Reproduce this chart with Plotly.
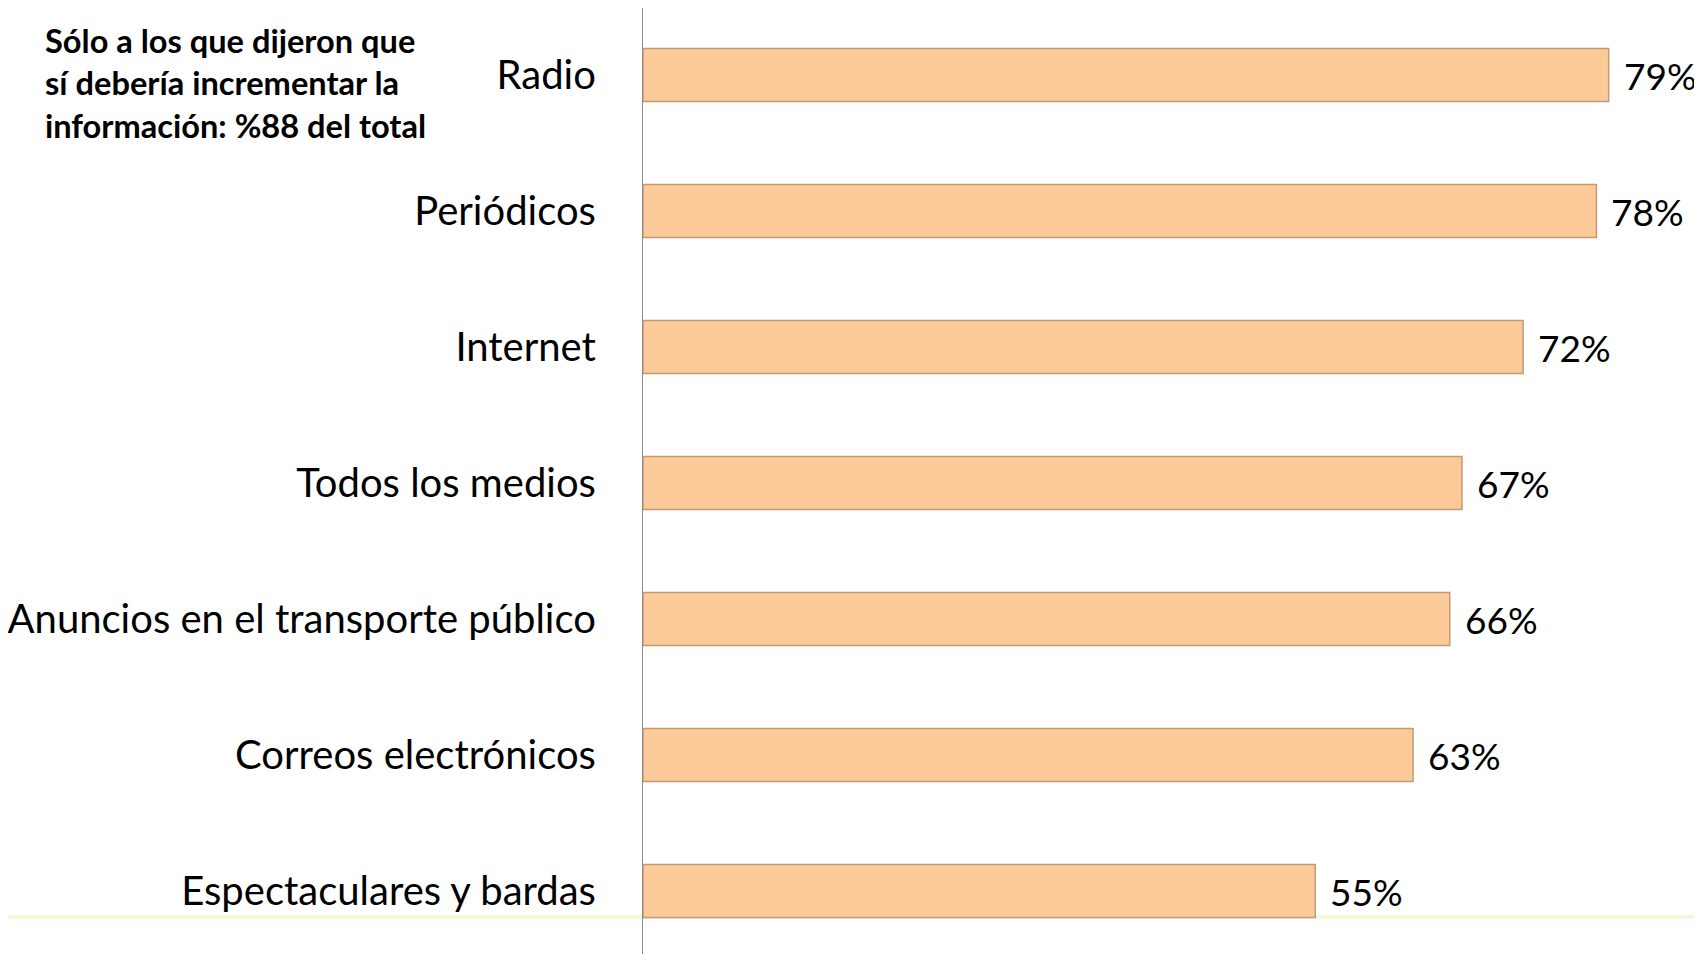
import plotly.graph_objects as go

categories = [
    "Radio",
    "Periódicos",
    "Internet",
    "Todos los medios",
    "Anuncios en el transporte público",
    "Correos electrónicos",
    "Espectaculares y bardas",
]
values = [79, 78, 72, 67, 66, 63, 55]
value_labels = ["79%", "78%", "72%", "67%", "66%", "63%", "55%"]
note_lines = [
    "Sólo a los que dijeron que",
    "sí debería incrementar la",
    "información: %88 del total",
]

FONT = "Lato"

fig = go.Figure()
fig.add_trace(go.Bar(
    y=categories,
    x=values,
    orientation="h",
    marker=dict(color="#FCCA98", line=dict(color="#C39A76", width=1.5)),
    cliponaxis=False,
    width=0.39,
))

annotations = [
    dict(
        x=v, y=c, xref="x", yref="y",
        text=t, showarrow=False,
        xanchor="left", yanchor="middle", xshift=13,
        font=dict(family=FONT, size=37, color="#000000"),
    )
    for c, v, t in zip(categories, values, value_labels)
]
annotations.append(
    dict(
        text="<br>".join(note_lines),
        xref="paper", yref="paper",
        x=-0.577, y=0.988,
        xanchor="left", yanchor="top",
        align="left",
        showarrow=False,
        font=dict(family=FONT, size=32.6, color="#000000", weight="bold"),
    )
)

fig.update_layout(
    width=1702,
    height=954,
    paper_bgcolor="white",
    plot_bgcolor="white",
    margin=dict(l=627, r=28, t=0, b=0),
    showlegend=False,
    xaxis=dict(range=[0, 85], visible=False, fixedrange=True),
    yaxis=dict(
        categoryorder="array",
        categoryarray=categories[::-1],
        range=[-0.522, 6.493],
        showline=True,
        linecolor="#8A8A8A",
        linewidth=1.2,
        ticks="",
        showgrid=False,
        zeroline=False,
        tickfont=dict(family=FONT, size=40, color="#000000"),
        ticklabelstandoff=38,
    ),
    shapes=[
        dict(type="line", xref="paper", yref="paper", x0=-0.7, x1=1.03,
             y0=0.0472, y1=0.0472, line=dict(color="#F5F6DA", width=4), layer="below"),
    ],
    annotations=annotations,
    font=dict(family=FONT),
)

fig.write_html("out.html")
